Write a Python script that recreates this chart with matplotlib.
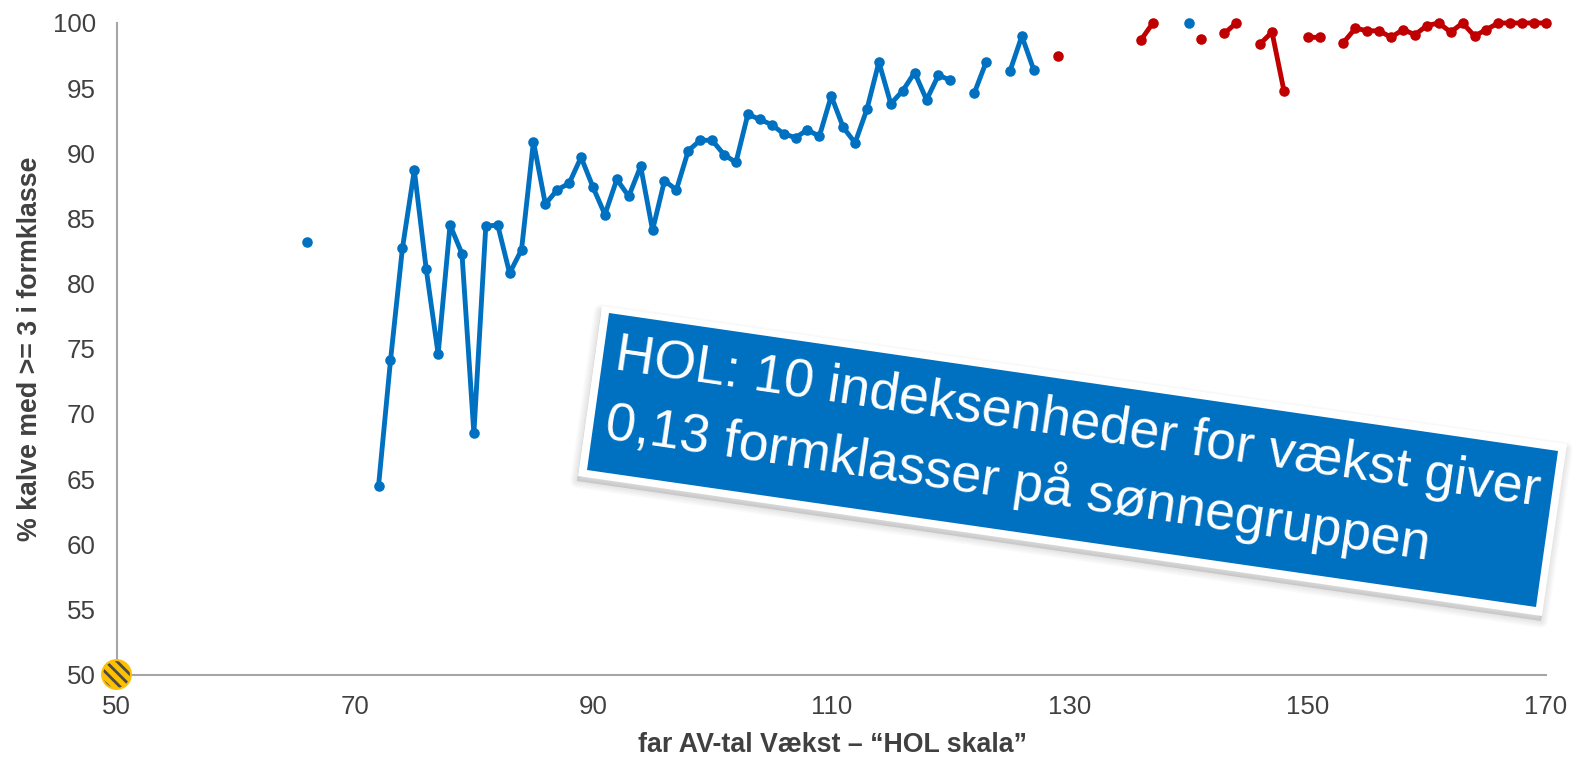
# kalve: % med >= 3 i formklasse mod far AV-tal for vaekst

import numpy as np
import matplotlib.pyplot as plt
from matplotlib.patches import Polygon

plt.rcParams['font.family'] = ['Liberation Sans', 'DejaVu Sans']
plt.rcParams['hatch.linewidth'] = 2

BLA = '#0070C0'
ROD = '#C00000'
GRA = '#404040'

nan = np.nan

# far AV-tal, blaa serie
x_bla = [66, 67, 72, 73, 74, 75, 76, 77, 78, 79, 80, 81, 82, 83, 84, 85, 86, 87, 88, 89,
         90, 91, 92, 93, 94, 95, 96, 97, 98, 99, 100, 101, 102, 103, 104, 105, 106, 107,
         108, 109, 110, 111, 112, 113, 114, 115, 116, 117, 118, 119, 120, 121, 122, 123,
         124, 125, 126, 127, 128, 140]
y_bla = [83.2, nan, 64.5, 74.1, 82.7, 88.7, 81.1, 74.6, 84.5, 82.3, 68.5, 84.4, 84.5, 80.8,
         82.6, 90.9, 86.1, 87.2, 87.7, 89.7, 87.4, 85.3, 88.0, 86.7, 89.0, 84.1, 87.9, 87.2,
         90.2, 91.0, 91.0, 89.9, 89.3, 93.0, 92.6, 92.2, 91.5, 91.2, 91.8, 91.3, 94.4, 92.0,
         90.8, 93.4, 97.0, 93.8, 94.8, 96.2, 94.1, 96.0, 95.6, nan, 94.6, 97.0, nan, 96.3,
         99.0, 96.4, nan, 100]

# far AV-tal, roed serie
x_rod = [129, 130, 136, 137, 138, 141, 142, 143, 144, 145, 146, 147, 148, 149, 150, 151, 152,
         153, 154, 155, 156, 157, 158, 159, 160, 161, 162, 163, 164, 165, 166, 167, 168, 169, 170]
y_rod = [97.5, nan, 98.7, 100, nan, 98.8, nan, 99.2, 100, nan, 98.4, 99.3, 94.8, nan, 98.9, 98.9,
         nan, 98.5, 99.6, 99.4, 99.4, 98.9, 99.5, 99.1, 99.8, 100, 99.3, 100, 99.0, 99.5, 100,
         100, 100, 100, 100]

x_ticks = [50, 70, 90, 110, 130, 150, 170]
y_ticks = [50, 55, 60, 65, 70, 75, 80, 85, 90, 95, 100]

boks_tekst = 'HOL: 10 indeksenheder for vækst giver\n0,13 formklasser på sønnegruppen'

W, H = 1572, 757
fig = plt.figure(figsize=(W / 100, H / 100), dpi=100)
ax = fig.add_axes([116.5 / W, 1 - 674.5 / H, (1546 - 116.5) / W, (674.5 - 23) / H])

ax.plot(x_bla, y_bla, color=BLA, lw=3.5, marker='o', ms=7.6, mew=0, clip_on=False, zorder=3)
ax.plot(x_rod, y_rod, color=ROD, lw=3.5, marker='o', ms=7.6, mew=0, clip_on=False, zorder=3)

# punktet i origo, gult med skraa striber
ax.scatter([50], [50], s=430, facecolor='#FFC000', edgecolor='#4A4A4A', hatch='\\\\\\', lw=0,
           clip_on=False, zorder=4)
ax.scatter([50], [50], s=430, facecolor='none', edgecolor='#FFC000', lw=1.5, clip_on=False, zorder=5)

ax.set_xlim(50, 170)
ax.set_ylim(50, 100)
ax.set_xticks(x_ticks)
ax.set_yticks(y_ticks)
ax.tick_params(axis='both', length=0, labelsize=18.6, labelcolor=GRA)
ax.tick_params(axis='x', pad=15)
ax.tick_params(axis='y', pad=15)
for s in ['top', 'right']:
    ax.spines[s].set_visible(False)
for s in ['left', 'bottom']:
    ax.spines[s].set_color('#A6A6A6')
    ax.spines[s].set_linewidth(1.5)

ax.set_xlabel('far AV-tal Vækst – “HOL skala”', fontsize=19.3, fontweight='bold', color=GRA, va='center')
ax.set_ylabel('% kalve med >= 3 i formklasse', fontsize=19.3, fontweight='bold', color=GRA, va='center')
ax.xaxis.set_label_coords(0.501, -0.108)
ax.yaxis.set_label_coords(-0.0605, 0.5)

# tekstboksen tegnes i pixels oven paa det hele
ov = fig.add_axes([0, 0, 1, 1], zorder=10)
ov.set_xlim(0, W)
ov.set_ylim(H, 0)
ov.axis('off')
ov.patch.set_alpha(0)

hvid = np.array([(602, 306), (1567, 444), (1542, 616), (578, 476)], dtype=float)
for d in [10, 8, 6, 4, 2, 0]:
    ov.add_patch(Polygon(hvid + [-1, 5], closed=True, fc='black', ec='black', lw=d, alpha=0.018, joinstyle='round'))
ov.add_patch(Polygon(hvid, closed=True, fc='white', ec='none'))
ov.add_patch(Polygon([(609, 313), (1558, 451), (1536, 607), (587, 470)], closed=True, fc=BLA, ec='none'))
ov.text(611, 390, boks_tekst, rotation=-8.4, rotation_mode='anchor', ha='left', va='center',
        fontsize=38.6, color='white', linespacing=1.35, multialignment='left')

fig.savefig('out.png', dpi=100)
